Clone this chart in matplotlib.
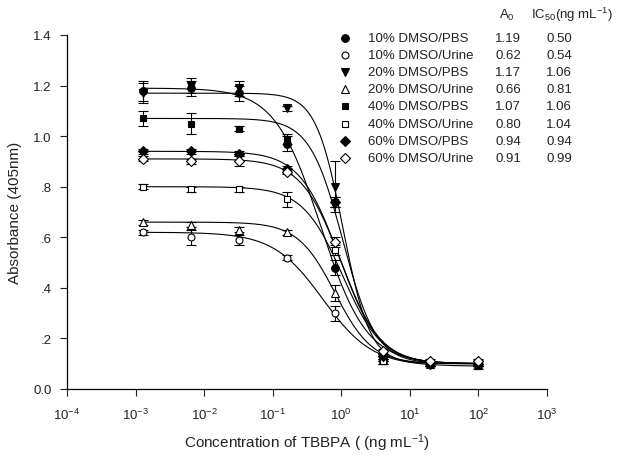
"""Competitive ELISA curves for TBBPA in DMSO/PBS and DMSO/urine."""

import matplotlib

matplotlib.use("Agg")
import numpy as np  # noqa: E402
from matplotlib import pyplot as plt  # noqa: E402

plt.rcParams["font.family"] = ["Liberation Sans", "DejaVu Sans"]
plt.rcParams["mathtext.default"] = "regular"

TEXT_COLOR = "#222222"

# concentrations (ng/mL), one column of points per value
conc = [0.00128, 0.0064, 0.032, 0.16, 0.8, 4, 20, 100]

labels = [
    "10% DMSO/PBS",
    "10% DMSO/Urine",
    "20% DMSO/PBS",
    "20% DMSO/Urine",
    "40% DMSO/PBS",
    "40% DMSO/Urine",
    "60% DMSO/PBS",
    "60% DMSO/Urine",
]

pbs10 = [1.18, 1.19, 1.17, 0.97, 0.48, 0.12, 0.10, 0.10]
urine10 = [0.62, 0.60, 0.59, 0.52, 0.30, 0.12, 0.10, 0.10]
pbs20 = [1.17, 1.20, 1.19, 1.11, 0.80, 0.13, 0.10, 0.10]
urine20 = [0.66, 0.65, 0.63, 0.62, 0.38, 0.12, 0.10, 0.10]
pbs40 = [1.07, 1.05, 1.03, 0.99, 0.74, 0.11, 0.10, 0.09]
urine40 = [0.80, 0.79, 0.79, 0.75, 0.55, 0.11, 0.10, 0.10]
pbs60 = [0.94, 0.94, 0.93, 0.87, 0.74, 0.13, 0.10, 0.10]
urine60 = [0.91, 0.90, 0.90, 0.86, 0.58, 0.15, 0.11, 0.11]

err_pbs10 = [0.04, 0.03, 0.03, 0.03, 0.03, 0.01, 0.01, 0.01]
err_urine10 = [0.01, 0.03, 0.02, 0.01, 0.03, 0.01, 0.01, 0.01]
err_pbs20 = [0.04, 0.03, 0.03, 0.01, 0.10, 0.01, 0.01, 0.01]
err_urine20 = [0.01, 0.01, 0.01, 0.01, 0.03, 0.01, 0.01, 0.01]
err_pbs40 = [0.03, 0.04, 0.01, 0.02, 0.02, 0.01, 0.01, 0.01]
err_urine40 = [0.01, 0.01, 0.01, 0.03, 0.02, 0.01, 0.01, 0.01]
err_pbs60 = [0.01, 0.01, 0.01, 0.01, 0.02, 0.01, 0.01, 0.01]
err_urine60 = [0.01, 0.01, 0.02, 0.01, 0.02, 0.01, 0.01, 0.01]

# fitted four-parameter logistic curves
a0 = [1.19, 0.62, 1.17, 0.66, 1.07, 0.80, 0.94, 0.91]
ic50 = [0.50, 0.54, 1.06, 0.81, 1.06, 1.04, 0.94, 0.99]
slopes = [1.3, 1.2, 2.2, 1.6, 1.8, 1.5, 1.5, 1.5]
bottoms = [0.10, 0.09, 0.10, 0.10, 0.10, 0.10, 0.10, 0.10]

series = [pbs10, urine10, pbs20, urine20, pbs40, urine40, pbs60, urine60]
errors = [
    err_pbs10, err_urine10, err_pbs20, err_urine20,
    err_pbs40, err_urine40, err_pbs60, err_urine60,
]
markers = ["o", "o", "v", "^", "s", "s", "D", "D"]
filled = [True, False, True, False, True, False, True, False]
marker_sizes = [5.5, 5.0, 6.0, 6.0, 5.0, 5.0, 5.0, 5.5]

y_ticks = [0.0, 0.2, 0.4, 0.6, 0.8, 1.0, 1.2, 1.4]
y_tick_labels = ["0.0", ".2", ".4", ".6", ".8", "1.0", "1.2", "1.4"]
x_ticks = [1e-4, 1e-3, 1e-2, 1e-1, 1e0, 1e1, 1e2, 1e3]


def logistic(x, top, c50, slope, bottom):
    return bottom + (top - bottom) / (1.0 + (x / c50) ** slope)


fig = plt.figure(figsize=(6.21, 4.64), dpi=100)
ax = fig.add_axes([67 / 621, 1 - 390 / 464, 480 / 621, 354 / 464])

xs = np.logspace(np.log10(conc[0]), np.log10(conc[-1]), 300)
for idx in range(len(series)):
    ax.plot(
        xs,
        logistic(xs, a0[idx], ic50[idx], slopes[idx], bottoms[idx]),
        color="black",
        linewidth=0.8,
        zorder=2,
    )

for idx, values in enumerate(series):
    face = "black" if filled[idx] else "white"
    ax.errorbar(
        conc,
        values,
        yerr=errors[idx],
        fmt=markers[idx],
        markersize=marker_sizes[idx],
        markerfacecolor=face,
        markeredgecolor="black",
        markeredgewidth=0.8,
        ecolor="black",
        elinewidth=0.8,
        capsize=3.5,
        capthick=0.8,
        zorder=3,
    )

ax.set_xscale("log")
ax.set_xlim(1e-4, 1e3)
ax.set_ylim(0.0, 1.4)
ax.set_xticks(x_ticks)
ax.set_xticklabels([f"$10^{{{int(np.log10(t))}}}$" for t in x_ticks])
ax.minorticks_off()
ax.set_yticks(y_ticks)
ax.set_yticklabels(y_tick_labels)
ax.tick_params(
    direction="out", length=5, width=0.8, labelsize=9.5, colors=TEXT_COLOR, pad=6
)
ax.tick_params(axis="x", pad=8)
for side in ("top", "right"):
    ax.spines[side].set_visible(False)
for side in ("left", "bottom"):
    ax.spines[side].set_linewidth(0.9)

ax.set_ylabel("Absorbance (405nm)", fontsize=11, color=TEXT_COLOR, labelpad=8)
fig.text(
    307 / 621,
    1 - 443 / 464,
    "Concentration of TBBPA ( (ng mL$^{-1}$)",
    ha="center",
    va="center",
    fontsize=11,
    color=TEXT_COLOR,
)

# legend table: marker, name, A0, IC50
row_y = [39, 56, 73, 90, 107, 125, 142, 159]
fig.text(507 / 621, 1 - 15 / 464, "A$_0$", ha="center", va="center",
         fontsize=9.5, color=TEXT_COLOR)
fig.text(531 / 621, 1 - 15 / 464, "IC$_{50}$(ng mL$^{-1}$)", ha="left",
         va="center", fontsize=9.5, color=TEXT_COLOR)
for idx, label in enumerate(labels):
    y = 1 - row_y[idx] / 464
    face = "black" if filled[idx] else "white"
    ax.plot(
        [345 / 621], [y],
        marker=markers[idx],
        markersize=marker_sizes[idx],
        markerfacecolor=face,
        markeredgecolor="black",
        markeredgewidth=0.8,
        linestyle="none",
        transform=fig.transFigure,
        clip_on=False,
    )
    fig.text(368 / 621, y, label, ha="left", va="center", fontsize=9.5,
             color=TEXT_COLOR)
    fig.text(508 / 621, y, f"{a0[idx]:.2f}", ha="center", va="center",
             fontsize=9.5, color=TEXT_COLOR)
    fig.text(559 / 621, y, f"{ic50[idx]:.2f}", ha="center", va="center",
             fontsize=9.5, color=TEXT_COLOR)

fig.savefig("out.png", dpi=100)
plt.close(fig)
